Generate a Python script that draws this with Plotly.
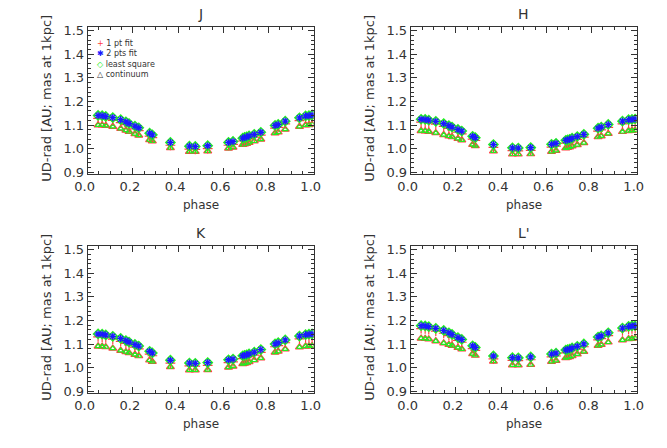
import plotly.graph_objects as go

# pulsation phase of each observation
phase = [0.046, 0.064, 0.080, 0.111, 0.146, 0.169, 0.183, 0.209, 0.226, 0.274,
         0.286, 0.366, 0.450, 0.476, 0.531, 0.623, 0.643, 0.686, 0.694, 0.703,
         0.714, 0.737, 0.766, 0.829, 0.843, 0.874, 0.937, 0.964, 0.979, 0.993]

bands = ['J', 'H', 'K', "L'"]

# 2 pts fit / least square (they sit on top of each other)
two_pts_J = [1.141, 1.140, 1.137, 1.132, 1.123, 1.114, 1.107, 1.096, 1.089, 1.066, 1.059, 1.027, 1.011, 1.010, 1.013,
             1.027, 1.031, 1.045, 1.048, 1.050, 1.055, 1.061, 1.070, 1.099, 1.103, 1.117, 1.131, 1.139, 1.140, 1.143]
two_pts_H = [1.125, 1.124, 1.121, 1.116, 1.107, 1.098, 1.092, 1.082, 1.075, 1.053, 1.047, 1.018, 1.004, 1.003, 1.005,
             1.019, 1.023, 1.036, 1.038, 1.040, 1.045, 1.052, 1.061, 1.087, 1.092, 1.103, 1.117, 1.123, 1.124, 1.126]
two_pts_K = [1.143, 1.142, 1.139, 1.133, 1.124, 1.115, 1.109, 1.099, 1.092, 1.070, 1.063, 1.032, 1.020, 1.019, 1.022,
             1.034, 1.037, 1.051, 1.053, 1.055, 1.059, 1.066, 1.077, 1.101, 1.106, 1.118, 1.134, 1.140, 1.142, 1.143]
two_pts_L = [1.178, 1.177, 1.174, 1.167, 1.158, 1.148, 1.141, 1.128, 1.120, 1.093, 1.086, 1.050, 1.043, 1.042, 1.046,
             1.058, 1.062, 1.075, 1.077, 1.079, 1.084, 1.091, 1.101, 1.130, 1.135, 1.148, 1.168, 1.175, 1.177, 1.178]

# 1 pt fit
one_pt_J = [1.129, 1.128, 1.125, 1.120, 1.111, 1.102, 1.095, 1.084, 1.077, 1.054, 1.047, 1.015, 0.999, 0.998, 1.001,
            1.015, 1.019, 1.033, 1.036, 1.038, 1.043, 1.049, 1.058, 1.087, 1.091, 1.105, 1.119, 1.127, 1.128, 1.131]
one_pt_H = [1.113, 1.112, 1.109, 1.104, 1.095, 1.086, 1.080, 1.070, 1.063, 1.041, 1.035, 1.006, 0.992, 0.991, 0.993,
            1.007, 1.011, 1.024, 1.026, 1.028, 1.033, 1.040, 1.049, 1.075, 1.080, 1.091, 1.105, 1.111, 1.112, 1.114]
one_pt_K = [1.131, 1.130, 1.127, 1.121, 1.112, 1.103, 1.097, 1.087, 1.080, 1.058, 1.051, 1.020, 1.008, 1.007, 1.010,
            1.022, 1.025, 1.039, 1.041, 1.043, 1.047, 1.054, 1.065, 1.089, 1.094, 1.106, 1.122, 1.128, 1.130, 1.131]
one_pt_L = [1.166, 1.165, 1.162, 1.155, 1.146, 1.136, 1.129, 1.116, 1.108, 1.081, 1.074, 1.038, 1.031, 1.030, 1.034,
            1.046, 1.050, 1.063, 1.065, 1.067, 1.072, 1.079, 1.089, 1.118, 1.123, 1.136, 1.156, 1.163, 1.165, 1.166]

# continuum
cont_J = [1.100, 1.100, 1.098, 1.094, 1.085, 1.078, 1.072, 1.063, 1.057, 1.038, 1.032, 1.004, 0.988, 0.988, 0.990,
          1.002, 1.006, 1.018, 1.020, 1.022, 1.026, 1.032, 1.040, 1.066, 1.070, 1.082, 1.094, 1.100, 1.101, 1.103]
cont_H = [1.076, 1.075, 1.073, 1.067, 1.059, 1.053, 1.050, 1.043, 1.037, 1.018, 1.012, 0.990, 0.977, 0.977, 0.978,
          0.988, 0.992, 1.003, 1.005, 1.007, 1.011, 1.017, 1.025, 1.050, 1.054, 1.064, 1.072, 1.076, 1.077, 1.078]
cont_K = [1.091, 1.090, 1.088, 1.082, 1.073, 1.067, 1.063, 1.056, 1.050, 1.032, 1.026, 1.004, 0.990, 0.990, 0.991,
          1.002, 1.006, 1.017, 1.019, 1.021, 1.025, 1.032, 1.041, 1.065, 1.069, 1.079, 1.087, 1.091, 1.092, 1.093]
cont_L = [1.124, 1.123, 1.121, 1.113, 1.104, 1.098, 1.094, 1.085, 1.079, 1.059, 1.052, 1.027, 1.011, 1.011, 1.013,
          1.026, 1.030, 1.042, 1.044, 1.046, 1.050, 1.058, 1.068, 1.094, 1.098, 1.108, 1.117, 1.122, 1.123, 1.124]

two_pts = [two_pts_J, two_pts_H, two_pts_K, two_pts_L]
one_pt = [one_pt_J, one_pt_H, one_pt_K, one_pt_L]
cont = [cont_J, cont_H, cont_K, cont_L]

legend_labels = ['1 pt fit', '2 pts fit', 'least square', 'continuum']
legend_symbols = ['+', '✱', '◇', '△']

RED = '#ff4040'
BLUE = '#1a1aff'
GREEN = '#22ee22'
INK = '#333333'
FONT = 'DejaVu Sans'

# panel boxes in pixels (left, right, top, bottom) on a 667x448 canvas
W, H = 667, 448
boxes = [(77, 310, 24, 174), (410, 643, 24, 174),
         (77, 310, 248, 398), (410, 643, 248, 398)]

fig = go.Figure()
annotations = []

for i, band in enumerate(bands):
    l, r, t, b = boxes[i]
    n = '' if i == 0 else str(i + 1)
    xa, ya = 'x' + n, 'y' + n
    # continuum triangles
    fig.add_trace(go.Scatter(x=phase, y=cont[i], mode='markers', xaxis=xa, yaxis=ya,
                             marker=dict(symbol='triangle-up-open', size=7, color=RED, line=dict(width=1.2))))
    fig.add_trace(go.Scatter(x=phase, y=cont[i], mode='markers', xaxis=xa, yaxis=ya,
                             marker=dict(symbol='triangle-up-open', size=5, color=GREEN, line=dict(width=1.2))))
    fig.add_trace(go.Scatter(x=phase, y=one_pt[i], mode='markers', xaxis=xa, yaxis=ya, name='1 pt fit',
                             marker=dict(symbol='cross-thin-open', size=7, color=RED, line=dict(width=1.2, color=RED))))
    fig.add_trace(go.Scatter(x=phase, y=two_pts[i], mode='markers', xaxis=xa, yaxis=ya, name='least square',
                             marker=dict(symbol='diamond-open', size=7, color=GREEN, line=dict(width=1.5))))
    fig.add_trace(go.Scatter(x=phase, y=two_pts[i], mode='markers', xaxis=xa, yaxis=ya, name='2 pts fit',
                             marker=dict(symbol='asterisk-open', size=6, color=BLUE, line=dict(width=1.3, color=BLUE))))

    axis_common = dict(showline=True, mirror='ticks', linecolor=INK, linewidth=1,
                       ticks='inside', tickcolor=INK, showgrid=False, zeroline=False,
                       tickfont=dict(family=FONT, size=13, color=INK))
    fig.layout['xaxis' + n] = dict(axis_common, domain=[l / W, r / W], anchor=ya, range=[0, 1],
                                   dtick=0.2, tickformat='.1f', ticklen=6, ticklabelshift=-3,
                                   minor=dict(dtick=0.05, ticks='inside', ticklen=3, tickcolor=INK))
    fig.layout['yaxis' + n] = dict(axis_common, domain=[1 - b / H, 1 - t / H], anchor=xa, range=[0.893, 1.513],
                                   dtick=0.1, tick0=0.9, tickformat='.1f', ticklen=6,
                                   minor=dict(dtick=0.02, ticks='inside', ticklen=3, tickcolor=INK))

    annotations.append(dict(text=band, x=(l + r) / 2 / W, y=1 - (t - 14) / H,
                            font=dict(family=FONT, size=14, color=INK)))
    annotations.append(dict(text='phase', x=(l + r) / 2 / W, y=1 - (b + 32) / H,
                            font=dict(family=FONT, size=12, color=INK)))
    annotations.append(dict(text='UD-rad [AU; mas at 1kpc]', x=(l - 42) / W, y=1 - (t + b - 6) / 2 / H,
                            textangle=-90, font=dict(family=FONT, size=13, color=INK)))

# legend drawn as one multi-line text block in the J panel, IDL style
legend_colors = [RED, BLUE, GREEN, INK]
legend_text = '<br>'.join(
    f"<span style='color:{c}'>{s}</span> {lab}"
    for c, s, lab in zip(legend_colors, legend_symbols, legend_labels))
annotations.append(dict(text=legend_text, x=85 / W, y=1 - 34 / H, xanchor='left', yanchor='top',
                        align='left', font=dict(family=FONT, size=8, color=INK)))

for a in annotations:
    a.update(xref='paper', yref='paper', showarrow=False)
    a.setdefault('xanchor', 'center')
    a.setdefault('yanchor', 'middle')

fig.update_layout(
    width=W, height=H,
    paper_bgcolor='white', plot_bgcolor='white',
    margin=dict(l=0, r=0, t=0, b=0),
    annotations=annotations,
    showlegend=False,
)

fig.write_html("out.html", config={'displayModeBar': False},
               post_script="document.body.style.margin='0';")
